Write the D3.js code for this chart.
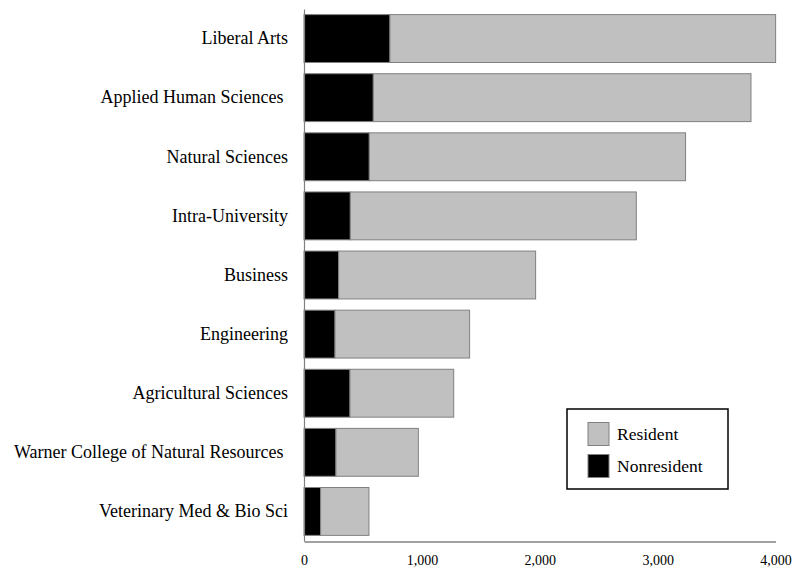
<!DOCTYPE html>
<html>
<head>
<meta charset="utf-8">
<script src="https://cdn.jsdelivr.net/npm/d3@7"></script>
<style>
  body { margin: 0; background: #fff; }
  svg text { font-family: "Liberation Serif", "DejaVu Serif", serif; fill: #000; white-space: pre; }
</style>
</head>
<body>
<svg class="js-chart"></svg>
<script>
/* global d3 */
var categories = [
    "Liberal Arts",
    "Applied Human Sciences ",
    "Natural Sciences",
    "Intra-University",
    "Business",
    "Engineering",
    "Agricultural Sciences",
    "Warner College of Natural Resources ",
    "Veterinary Med & Bio Sci"
];
var nonresident = [729, 588, 554, 393, 294, 263, 390, 271, 141];
var resident    = [3272, 3204, 2683, 2426, 1671, 1142, 880, 699, 410];
var xTicks = [0, 1000, 2000, 3000, 4000];
var seriesNames = ["Nonresident", "Resident"];

var width = 793, height = 571;
var colors = { Nonresident: "#000000", Resident: "#c0c0c0" };
var serif = "'Liberation Serif', 'DejaVu Serif', serif";

var svg = d3.select(".js-chart")
    .attr("width", width)
    .attr("height", height);

var x = d3.scaleLinear().domain([0, 4000]).range([304, 775.5]);
var y = d3.scaleBand().domain(categories).range([9, 541])
    .paddingInner(0.19).paddingOuter(0.095);

var rows = categories.map(function (c, i) {
    return { cat: c, Nonresident: nonresident[i], Resident: resident[i] };
});
var stacked = d3.stack().keys(seriesNames)(rows);

// bars
svg.append("g").selectAll("g").data(stacked)
    .enter().append("g")
        .attr("fill", function (d) { return colors[d.key]; })
    .selectAll("rect").data(function (d) { return d; })
    .enter().append("rect")
        .attr("x", function (d) { return x(d[0]); })
        .attr("y", function (d) { return y(d.data.cat); })
        .attr("width", function (d) { return x(d[1]) - x(d[0]); })
        .attr("height", y.bandwidth())
        .attr("stroke", "#808080")
        .attr("stroke-width", 1);

// left axis (category labels)
var yAxis = svg.append("g")
    .attr("transform", "translate(304,0)")
    .attr("font-family", serif)
    .call(d3.axisLeft(y).tickSize(0).tickPadding(16));
yAxis.select(".domain").attr("stroke", "#808080").attr("stroke-width", 1.2);
yAxis.selectAll("text").style("font-family", serif).style("font-size", "18px");

// bottom axis
var xAxis = svg.append("g")
    .attr("transform", "translate(0,541.5)")
    .attr("font-family", serif)
    .call(d3.axisBottom(x).tickValues(xTicks).tickSize(0).tickPadding(14)
        .tickFormat(d3.format(",")));
xAxis.select(".domain").attr("stroke", "#444").attr("stroke-width", 1.2);
xAxis.selectAll("text").style("font-family", serif).style("font-size", "14px");

// legend
var legend = svg.append("g").attr("transform", "translate(567,409)");
legend.append("rect")
    .attr("width", 161).attr("height", 80)
    .attr("fill", "#fff").attr("stroke", "#000").attr("stroke-width", 1.5);
var items = legend.selectAll(".item").data(["Resident", "Nonresident"])
    .enter().append("g")
        .attr("class", "item")
        .attr("transform", function (d, i) { return "translate(21," + (13.5 + i * 32) + ")"; });
items.append("rect")
    .attr("width", 21).attr("height", 23)
    .attr("fill", function (d) { return colors[d]; })
    .attr("stroke", "#808080");
items.append("text")
    .attr("x", 29).attr("y", 11.5).attr("dy", "0.35em")
    .style("font-family", serif)
    .style("font-size", "17.5px")
    .text(function (d) { return d; });
</script>
</body>
</html>
